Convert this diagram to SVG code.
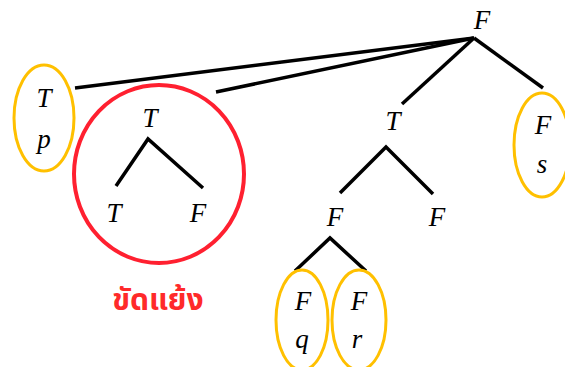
<svg xmlns="http://www.w3.org/2000/svg" width="565" height="367" viewBox="0 0 565 367">
<style>
.t{font-family:"Liberation Serif","DejaVu Serif",serif;font-style:italic;font-size:27px;fill:#000;text-anchor:middle}
.e{fill:none;stroke:#FFC000;stroke-width:3}
.c{fill:none;stroke:#000;stroke-width:3.5;stroke-linecap:butt}
</style>
<rect width="565" height="367" fill="#fff"/>
<g id="connectors" class="c">
<line x1="474" y1="38" x2="75" y2="88"/>
<line x1="474" y1="38" x2="216" y2="92"/>
<line x1="474" y1="38" x2="402" y2="104"/>
<line x1="474" y1="38" x2="543" y2="88"/>
<polyline points="116,186 148,139 203,188" fill="none"/>
<polyline points="340,193 386,147 433,194" fill="none"/>
<polyline points="295,271 330,238 366,271" fill="none"/>
</g>
<g id="root"><text class="t" x="482" y="29">F</text></g>
<g id="leaf-p"><ellipse class="e" cx="44" cy="118" rx="30" ry="53"/><text class="t" x="44" y="107">T</text><text class="t" x="44" y="148">p</text></g>
<g id="conflict">
<ellipse cx="159" cy="174" rx="85" ry="89" fill="none" stroke="#FF2030" stroke-width="4"/>
<text class="t" x="150" y="127">T</text>
<text class="t" x="114" y="222">T</text>
<text class="t" x="198" y="222">F</text>
<text x="158" y="310" font-family="'Noto Sans','Noto Sans Thai','DejaVu Sans',sans-serif" font-weight="bold" font-size="30" fill="#FF2A2A" text-anchor="middle">ขัดแย้ง</text>
</g>
<g id="mid-T"><text class="t" x="393" y="130">T</text></g>
<g id="mid-F"><text class="t" x="335" y="226">F</text></g>
<g id="right-F"><text class="t" x="437" y="226">F</text></g>
<g id="leaf-q"><ellipse class="e" cx="302" cy="320" rx="26" ry="50"/><text class="t" x="303" y="310">F</text><text class="t" x="302" y="348">q</text></g>
<g id="leaf-r"><ellipse class="e" cx="359" cy="320" rx="27" ry="50"/><text class="t" x="359" y="310">F</text><text class="t" x="357" y="348">r</text></g>
<g id="leaf-s"><ellipse class="e" cx="542" cy="145" rx="28" ry="52"/><text class="t" x="543" y="134">F</text><text class="t" x="542" y="173">s</text></g>
</svg>
